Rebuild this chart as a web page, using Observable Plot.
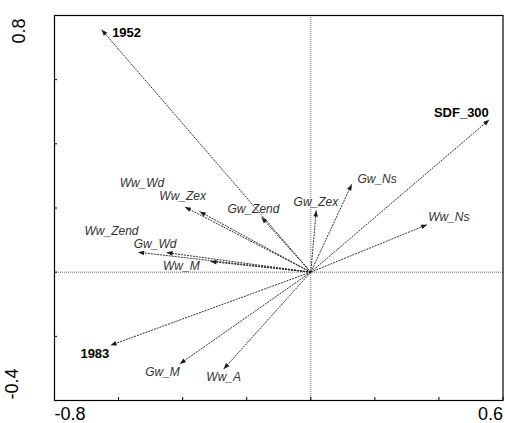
<!DOCTYPE html>
<html>
<head>
<meta charset="utf-8">
<script src="https://cdn.jsdelivr.net/npm/d3@7"></script>
<script src="https://cdn.jsdelivr.net/npm/@observablehq/plot@0.6"></script>
<style>
  html, body { margin: 0; padding: 0; background: #fff; }
</style>
</head>
<body>
<div id="chart"></div>
<script>
// Biplot vectors: scores on the first (horizontal) and second (vertical) axes
const names = ["1952", "SDF_300", "Ww_Wd", "Ww_Zex", "Gw_Zend", "Gw_Zex", "Gw_Ns",
               "Ww_Ns", "Ww_Zend", "Gw_Wd", "Ww_M", "1983", "Gw_M", "Ww_A"];
const axis1 = [-0.653, 0.557, -0.393, -0.347, -0.154, 0.017, 0.128,
               0.363, -0.539, -0.450, -0.313, -0.625, -0.409, -0.272];
const axis2 = [0.756, 0.475, 0.203, 0.189, 0.171, 0.192, 0.274,
               0.148, 0.062, 0.061, 0.033, -0.228, -0.286, -0.302];

// Where each name is written, in axis units
const labelX = [-0.575, 0.470, -0.527, -0.400, -0.179, 0.016, 0.207,
                0.431, -0.622, -0.486, -0.404, -0.674, -0.463, -0.272];
const labelY = [0.746, 0.498, 0.278, 0.236, 0.195, 0.219, 0.291,
                0.172, 0.127, 0.086, 0.019, -0.253, -0.311, -0.328];

// Supplementary variables are printed in bold
const boldNames = ["1952", "1983", "SDF_300"];

const xTicks = [-0.8, -0.6, -0.4, -0.2, 0, 0.2, 0.4, 0.6];
const yTicks = [-0.4, -0.2, 0, 0.2, 0.4, 0.6, 0.8];
const xEndLabels = [-0.8, 0.6];
const yEndLabels = [-0.4, 0.8];

const W = 505, H = 423;
const mL = 54, mR = 2.5, mT = 15, mB = 23;
const xDomain = [-0.8, 0.6], yDomain = [-0.4, 0.8];
const kx = (W - mL - mR) / (xDomain[1] - xDomain[0]);
const ky = (H - mT - mB) / (yDomain[1] - yDomain[0]);

const vectors = names.map((name, i) => ({
  name,
  x: axis1[i],
  y: axis2[i],
  lx: labelX[i],
  ly: labelY[i],
  bold: boldNames.includes(name),
  // heading of the arrow in screen degrees, clockwise from up
  angle: Math.atan2(axis1[i] * kx, axis2[i] * ky) * 180 / Math.PI
}));

// Small filled arrowhead drawn at the tip of each vector
const head = {
  draw(context, l) {
    context.moveTo(0, -l);
    context.lineTo(-2.3, 0);
    context.lineTo(2.3, 0);
    context.closePath();
  }
};

const ink = "#1a1a1a";

const chart = Plot.plot({
  width: W,
  height: H,
  marginLeft: mL,
  marginRight: mR,
  marginTop: mT,
  marginBottom: mB,
  style: { fontFamily: "'Liberation Sans', Arial, sans-serif", background: "#fff", color: "#000" },
  x: { domain: xDomain, axis: null },
  y: { domain: yDomain, axis: null },
  marks: [
    Plot.ruleX([0], { stroke: "#6a6a6a", strokeWidth: 1, strokeDasharray: "1,1" }),
    Plot.ruleY([0], { stroke: "#6a6a6a", strokeWidth: 1, strokeDasharray: "1,1" }),
    Plot.link(vectors, {
      x1: 0, y1: 0, x2: "x", y2: "y",
      stroke: ink, strokeWidth: 0.9, strokeDasharray: "2,1"
    }),
    Plot.vector(vectors, {
      x: "x", y: "y", rotate: "angle", length: 6, anchor: "end",
      shape: head, fill: ink, stroke: "none"
    }),
    Plot.text(vectors.filter(d => !d.bold), {
      x: "lx", y: "ly", text: "name",
      fontSize: 12, fontStyle: "italic", fill: "#333"
    }),
    Plot.text(vectors.filter(d => d.bold), {
      x: "lx", y: "ly", text: "name",
      fontSize: 13, fontWeight: "bold", fill: "#000"
    }),
    Plot.axisX(xTicks, { anchor: "bottom", tickSize: -3, tickFormat: () => "", stroke: "#000" }),
    Plot.axisY(yTicks, { anchor: "left", tickSize: -3, tickFormat: () => "", stroke: "#000" }),
    Plot.text([xEndLabels[0]], {
      x: d => d, frameAnchor: "bottom", text: d => d.toFixed(1),
      textAnchor: "start", lineAnchor: "top", dy: 7, fontSize: 18, fill: "#000"
    }),
    Plot.text([xEndLabels[1]], {
      x: d => d, frameAnchor: "bottom", text: d => d.toFixed(1),
      textAnchor: "end", lineAnchor: "top", dy: 7, fontSize: 18, fill: "#000"
    }),
    Plot.text([yEndLabels[1]], {
      y: d => d, frameAnchor: "left", text: d => d.toFixed(1),
      rotate: -90, textAnchor: "end", lineAnchor: "middle", dx: -35, dy: 3,
      fontSize: 18, fill: "#000"
    }),
    Plot.text([yEndLabels[0]], {
      y: d => d, frameAnchor: "left", text: d => d.toFixed(1),
      rotate: -90, textAnchor: "start", lineAnchor: "bottom", dx: -37, dy: -1,
      fontSize: 18, fill: "#000"
    }),
    Plot.frame({ stroke: "#000", strokeWidth: 1.2 })
  ]
});

document.getElementById("chart").appendChild(chart);
</script>
</body>
</html>
